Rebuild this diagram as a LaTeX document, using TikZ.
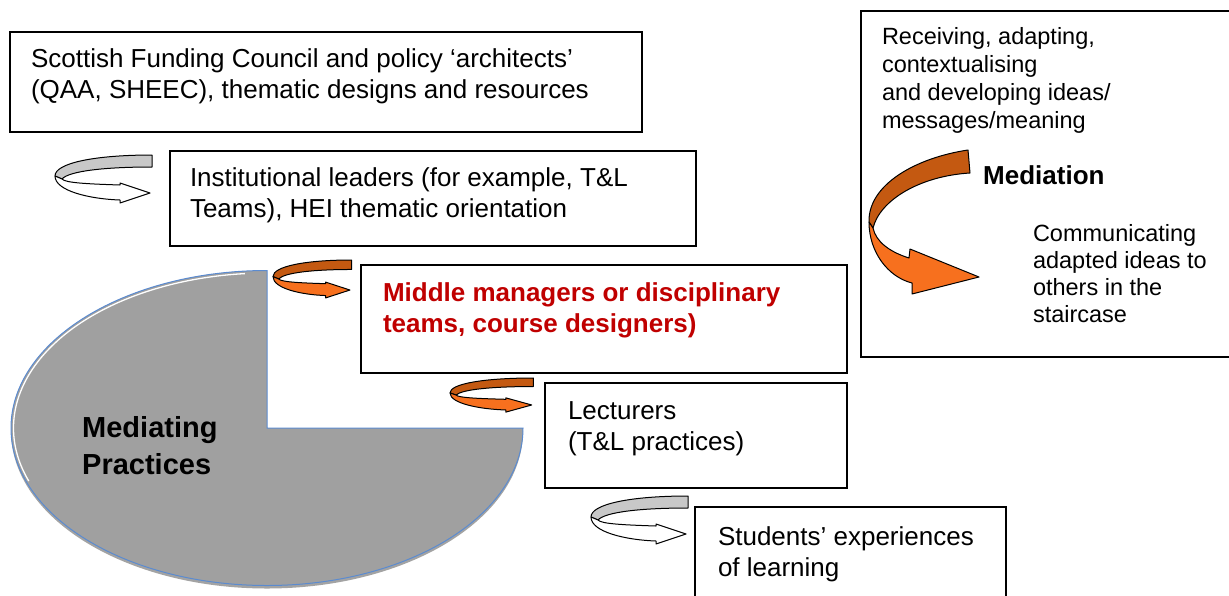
\documentclass[tikz,border=0pt]{standalone}
\usepackage{fontspec}
\setmainfont{Liberation Sans}
\definecolor{pieGray}{RGB}{160,160,160}
\definecolor{pieEdge}{RGB}{91,139,208}
\definecolor{orBack}{RGB}{196,89,17}
\definecolor{orFront}{RGB}{247,112,30}
\definecolor{grBack}{RGB}{200,200,200}
\definecolor{darkRed}{RGB}{192,0,0}
\newcommand{\mylines}[1]{\begin{tabular}[t]{@{}l@{}}#1\end{tabular}}
\tikzset{
  box/.style={draw=black, line width=1.3pt, rectangle, anchor=north west, inner sep=0pt, outer sep=0pt, fill=white},
  txt/.style={anchor=base west, inner sep=0pt, outer sep=0pt, font=\fontsize{26}{31}\selectfont},
  rtxt/.style={anchor=base west, inner sep=0pt, outer sep=0pt, font=\fontsize{23.5}{28}\selectfont},
  pics/curl/.style n args={2}{code={
    \draw[line width=1pt, line join=round, fill=#1] (97,0) .. controls (40,0) and (0,8) .. (0,21) -- (7,24) .. controls (14,16) and (50,12) .. (97,12) -- cycle;
    \draw[line width=1pt, line join=round, fill=#2] (0,21) .. controls (0,36) and (35,44) .. (65,45) -- (65,48) -- (95,38) -- (65,28) -- (65,30) .. controls (35,29) and (10,28) .. (7,24) -- cycle;
  }}
}
\begin{document}
\begin{tikzpicture}[x=1pt,y=-1pt]
\useasboundingbox (0,0) rectangle (1229,595);
\clip (0,0) rectangle (1229,595);
\fill[white] (0,0) rectangle (1229,595);

% pie
\fill[gray!80!black, opacity=0.6] (11,431) arc[start angle=180, end angle=360, x radius=256pt, y radius=157.5pt] -- cycle;
\draw[fill=pieGray, draw=pieEdge, line width=1pt] (267,428) -- (267,270.5) arc[start angle=90, end angle=360, x radius=256pt, y radius=157.5pt] -- cycle;
\draw[white, line width=1.3pt] (244.9,273.6) arc[start angle=95, end angle=200, x radius=253.5pt, y radius=155pt];
\node[anchor=base west, inner sep=0pt, font=\fontsize{29}{37}\selectfont\bfseries] (mp) at (82,437) {\mylines{Mediating\\Practices}};

% boxes
\node[box, minimum width=632pt, minimum height=100pt] (b1) at (10,32) {};
\node[txt] (t1) at (31,67) {\mylines{Scottish Funding Council and policy ‘architects’\\(QAA, SHEEC), thematic designs and resources}};
\node[box, minimum width=526pt, minimum height=95pt] (b2) at (170,151) {};
\node[txt] (t2) at (190,186) {\mylines{Institutional leaders (for example, T\&L\\Teams), HEI thematic orientation}};
\node[box, minimum width=486pt, minimum height=108pt] (b3) at (361,265) {};
\node[txt, text=darkRed, font=\fontsize{26}{31}\selectfont\bfseries] (t3) at (383,301) {\mylines{Middle managers or disciplinary\\teams, course designers)}};
\node[box, minimum width=302pt, minimum height=105pt] (b4) at (545,383) {};
\node[txt] (t4) at (568,419) {\mylines{Lecturers\\(T\&L practices)}};
\node[box, minimum width=311pt, minimum height=120pt] (b5) at (695,507) {};
\node[txt] (t5) at (718,545) {\mylines{Students’ experiences\\of learning}};

% right box
\node[box, line width=2pt, minimum width=400pt, minimum height=346pt] (rb) at (861,11) {};
\node[rtxt] (r1) at (882,44) {\mylines{Receiving, adapting,\\contextualising\\and developing ideas/\\messages/meaning}};
\node[anchor=base west, inner sep=0pt, font=\fontsize{26}{31}\selectfont\bfseries] (med) at (983,184) {Mediation};
\node[rtxt, font=\fontsize{23.5}{27}\selectfont] (r2) at (1033,241) {\mylines{Communicating\\adapted ideas to\\others in the\\staircase}};

% mediation arrow
\draw[line width=1pt, fill=orBack, line join=round] (968,150) .. controls (915,158) and (868,185) .. (869,222) -- (873,228) .. controls (880,200) and (920,176) .. (970,173) -- cycle;
\draw[line width=1pt, fill=orFront, line join=round] (869,222) .. controls (869,252) and (888,277) .. (912,283) -- (912,294) -- (979,277) -- (910,249) -- (909,258) .. controls (890,252) and (876,242) .. (873,228) -- cycle;

% curl arrows
\pic at (55,155) {curl={grBack}{white}};
\pic[xscale=0.81, yscale=0.79] at (273,260) {curl={orBack}{orFront}};
\pic[xscale=0.86, yscale=0.71] at (450,378) {curl={orBack}{orFront}};
\pic at (591,496) {curl={grBack}{white}};
\end{tikzpicture}
\end{document}
